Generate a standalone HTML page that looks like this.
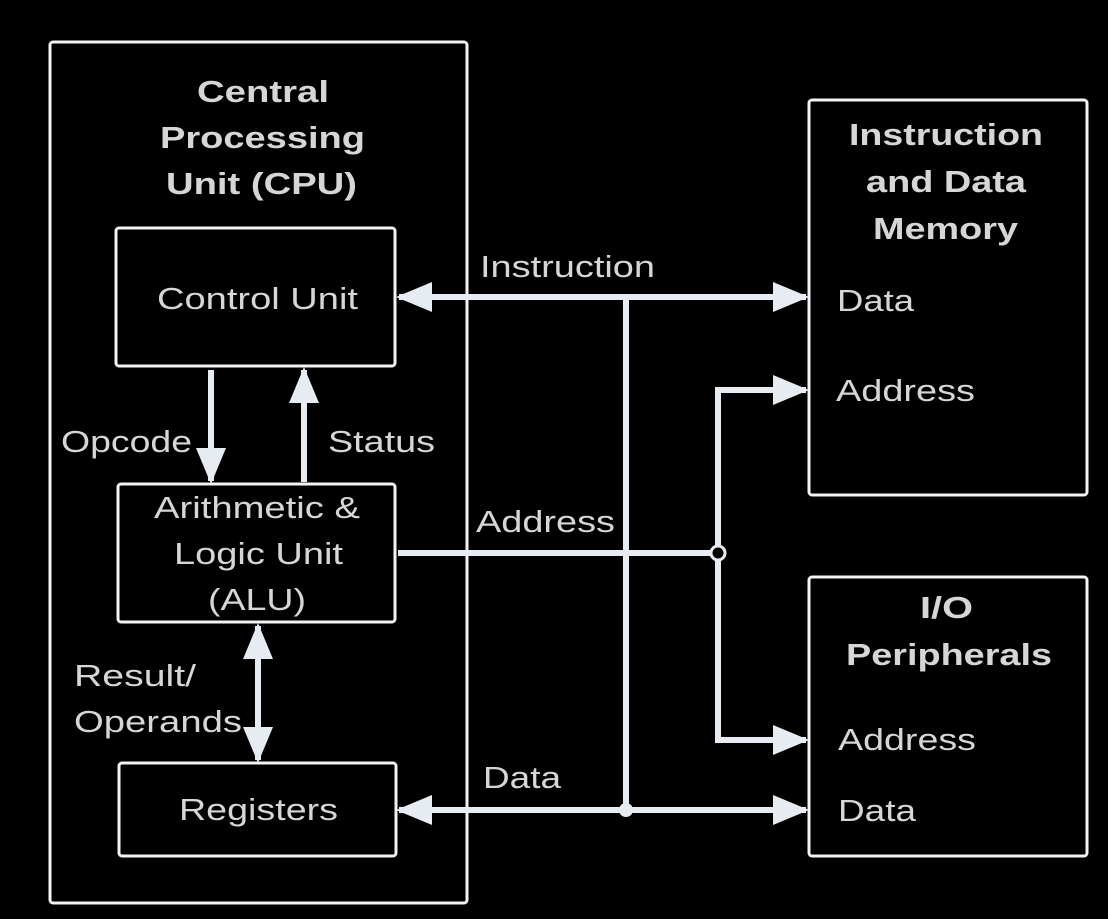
<!DOCTYPE html>
<html><head><meta charset="utf-8"><style>
html,body{margin:0;padding:0;background:#000;}
svg{display:block;}
text{font-family:"Liberation Sans",Arial,sans-serif;fill:#d6d6d6;}
.b{font-weight:bold;}
</style></head><body>
<svg width="1108" height="919" viewBox="0 0 1108 919" xmlns="http://www.w3.org/2000/svg">
<defs>
<marker id="ah" markerWidth="6" markerHeight="5" refX="5.5" refY="2.5" orient="auto" markerUnits="strokeWidth">
<path d="M0,0 L6,2.5 L0,5 Z" fill="#e6ecf2"/>
</marker>
</defs>
<rect width="1108" height="919" fill="#000"/>
<g fill="none" stroke="#f4f4f4" stroke-width="3">
<rect x="50" y="42" width="417" height="861" rx="3"/>
<rect x="116" y="228" width="279" height="138" rx="3"/>
<rect x="118" y="484" width="277" height="138" rx="3"/>
<rect x="119" y="763" width="277" height="93" rx="3"/>
<rect x="809" y="100" width="278" height="395" rx="3"/>
<rect x="809" y="577" width="278" height="279" rx="3"/>
</g>
<g fill="none" stroke="#e6ecf2" stroke-width="6">
<line x1="420" y1="297" x2="806" y2="297" marker-end="url(#ah)"/>
<line x1="600" y1="297" x2="399" y2="297" marker-end="url(#ah)"/>
<line x1="626" y1="297" x2="626" y2="810"/>
<line x1="398" y1="553" x2="718" y2="553"/>
<polyline points="718,740 718,390 806,390" marker-end="url(#ah)"/>
<polyline points="718,553 718,740 806,740" marker-end="url(#ah)"/>
<line x1="420" y1="810" x2="806" y2="810" marker-end="url(#ah)"/>
<line x1="600" y1="810" x2="399" y2="810" marker-end="url(#ah)"/>
<line x1="211" y1="370" x2="211" y2="481" marker-end="url(#ah)"/>
<line x1="304" y1="482" x2="304" y2="370" marker-end="url(#ah)"/>
<line x1="258" y1="700" x2="258" y2="626" marker-end="url(#ah)"/>
<line x1="258" y1="680" x2="258" y2="760" marker-end="url(#ah)"/>
</g>
<circle cx="718" cy="553" r="7" fill="#000" stroke="#e6ecf2" stroke-width="3"/>
<circle cx="626" cy="810" r="7" fill="#e6ecf2"/>
<g font-size="31" class="b">
<text x="197" y="102" textLength="132" lengthAdjust="spacingAndGlyphs">Central</text>
<text x="160" y="148" textLength="205" lengthAdjust="spacingAndGlyphs">Processing</text>
<text x="166" y="194" textLength="191" lengthAdjust="spacingAndGlyphs">Unit (CPU)</text>
<text x="849" y="145" textLength="194" lengthAdjust="spacingAndGlyphs">Instruction</text>
<text x="866" y="192" textLength="160" lengthAdjust="spacingAndGlyphs">and Data</text>
<text x="873" y="239" textLength="145" lengthAdjust="spacingAndGlyphs">Memory</text>
<text x="920" y="618" textLength="53" lengthAdjust="spacingAndGlyphs">I/O</text>
<text x="846" y="665" textLength="206" lengthAdjust="spacingAndGlyphs">Peripherals</text>
</g>
<g font-size="31">
<text x="157" y="309" textLength="201" lengthAdjust="spacingAndGlyphs">Control Unit</text>
<text x="154" y="518" textLength="206" lengthAdjust="spacingAndGlyphs">Arithmetic &amp;</text>
<text x="174" y="564" textLength="169" lengthAdjust="spacingAndGlyphs">Logic Unit</text>
<text x="208" y="610" textLength="98" lengthAdjust="spacingAndGlyphs">(ALU)</text>
<text x="179" y="820" textLength="159" lengthAdjust="spacingAndGlyphs">Registers</text>
<text x="61" y="452" textLength="131" lengthAdjust="spacingAndGlyphs">Opcode</text>
<text x="328" y="452" textLength="107" lengthAdjust="spacingAndGlyphs">Status</text>
<text x="74" y="686" textLength="122" lengthAdjust="spacingAndGlyphs">Result/</text>
<text x="74" y="732" textLength="168" lengthAdjust="spacingAndGlyphs">Operands</text>
<text x="480" y="277" textLength="175" lengthAdjust="spacingAndGlyphs">Instruction</text>
<text x="476" y="532" textLength="139" lengthAdjust="spacingAndGlyphs">Address</text>
<text x="483" y="788" textLength="78" lengthAdjust="spacingAndGlyphs">Data</text>
<text x="837" y="311" textLength="77" lengthAdjust="spacingAndGlyphs">Data</text>
<text x="836" y="401" textLength="139" lengthAdjust="spacingAndGlyphs">Address</text>
<text x="838" y="750" textLength="138" lengthAdjust="spacingAndGlyphs">Address</text>
<text x="838" y="821" textLength="78" lengthAdjust="spacingAndGlyphs">Data</text>
</g>
</svg>
</body></html>
